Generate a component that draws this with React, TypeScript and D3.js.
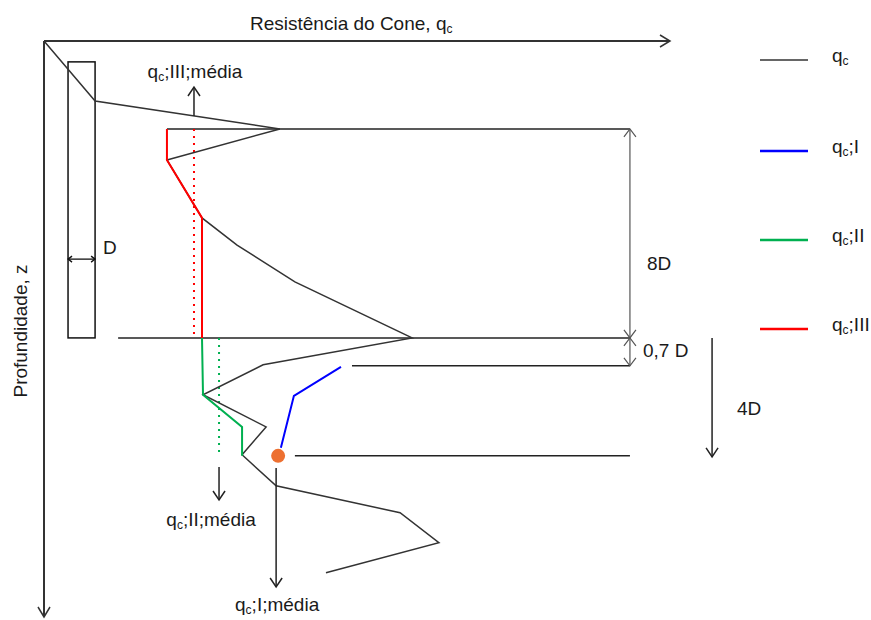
import React from "react";
import * as d3 from "d3";

// Cone resistance profile (depth in m, qc in MPa)
const qcDepth = [0, 2.3, 3.37, 4.56, 6.78, 7.82, 9.23, 11.38, 12.41, 13.56, 14.79, 15.86, 17.05, 18.08, 19.23, 20.38];
const qcValue = [0, 2.04, 9.42, 4.91, 6.31, 7.71, 10.02, 14.7, 8.75, 6.35, 8.87, 7.91, 9.27, 14.22, 15.77, 11.26];

// qc;III path (8D above the pile tip)
const qc3Depth = [3.37, 4.56, 6.78, 11.38];
const qc3Value = [4.91, 4.91, 6.31, 6.31];

// qc;II path (below the pile tip)
const qc2Depth = [11.38, 13.56, 14.79, 15.9];
const qc2Value = [6.31, 6.35, 7.91, 7.91];

// qc;I path
const qc1Depth = [12.49, 13.6, 15.59];
const qc1Value = [11.86, 9.98, 9.46];

// Averages
const meanLabels = ["III", "II", "I"];
const meanValues = [5.99, 6.99, 9.27];

// Reference levels
const levelTop = 3.37; // 8D above the tip
const pileTip = 11.38;
const level07 = 12.45; // 0.7D below the tip
const level4D = 15.9; // 4D below the tip
const minPointQc = 9.35;

// Pile shape
const pileLeft = 0.96;
const pileRight = 2.04;
const pileTop = 0.8;
const pileMarkDepth = 8.36;

// Legend
const legendLabels = ["", "I", "II", "III"];
const legendColors = ["#333333", "#0000ff", "#00b050", "#ff0000"];

const W = 871;
const H = 620;
const x = d3.scaleLinear().domain([0, 25]).range([44, 670]);
const y = d3.scaleLinear().domain([0, 22]).range([41, 615]);

const FONT = "'Liberation Sans', Arial, sans-serif";
const FS = 19;

function arrow(px: number, py: number, dir: "up" | "down" | "right" | "left", len = 9, half = 6) {
  switch (dir) {
    case "up":
      return `M${px - half},${py + len}L${px},${py}L${px + half},${py + len}`;
    case "down":
      return `M${px - half},${py - len}L${px},${py}L${px + half},${py - len}`;
    case "right":
      return `M${px - len},${py - half}L${px},${py}L${px - len},${py + half}`;
    default:
      return `M${px + len},${py - half}L${px},${py}L${px + len},${py + half}`;
  }
}

function Qc({ x: tx, y: ty, suffix, anchor = "start" }: { x: number; y: number; suffix: string; anchor?: string }) {
  return (
    <text x={tx} y={ty} fontFamily={FONT} fontSize={FS} fill="#1a1a1a" textAnchor={anchor}>
      q
      <tspan fontSize={12} dy={3}>c</tspan>
      <tspan dy={-3}>{suffix}</tspan>
    </text>
  );
}

export default function App() {
  const line = d3
    .line<[number, number]>()
    .x((d) => x(d[0]))
    .y((d) => y(d[1]));
  const pts = (vals: number[], deps: number[]) => vals.map((v, i) => [v, deps[i]] as [number, number]);

  const qcPath = line(pts(qcValue, qcDepth)) || "";
  const p3 = line(pts(qc3Value, qc3Depth)) || "";
  const p2 = line(pts(qc2Value, qc2Depth)) || "";
  const p1 = line(pts(qc1Value, qc1Depth)) || "";

  const dimX = x(23.4);
  const arr4X = x(26.68);
  const lineEnd = dimX;

  // depth of the qc profile at a given qc between the 2nd and 3rd points (for the III mean arrow base)
  const interpDepth = (v: number) => {
    const t = (v - qcValue[1]) / (qcValue[2] - qcValue[1]);
    return qcDepth[1] + t * (qcDepth[2] - qcDepth[1]);
  };

  const m3 = x(meanValues[0]);
  const m2 = x(meanValues[1]);
  const m1 = x(meanValues[2]);

  return (
    <svg width={W} height={H} style={{ position: "absolute", left: 0, top: 0, background: "#fff" }}>
      {/* axes */}
      <g stroke="#333" strokeWidth={2} fill="none">
        <line x1={x(0)} y1={y(0)} x2={x(25)} y2={y(0)} />
        <path d={arrow(x(25), y(0), "right", 10, 6)} strokeWidth={1.5} />
        <line x1={x(0)} y1={y(0)} x2={x(0)} y2={y(22) + 1} />
        <path d={arrow(x(0), y(22) + 2, "down", 10, 6)} strokeWidth={1.5} />
      </g>
      <text x={250} y={30} fontFamily={FONT} fontSize={FS} fill="#1a1a1a">
        Resistência do Cone, q<tspan fontSize={12} dy={3}>c</tspan>
      </text>
      <text
        transform={`translate(27,331) rotate(-90)`}
        fontFamily={FONT}
        fontSize={FS}
        fill="#1a1a1a"
        textAnchor="middle"
      >
        Profundidade, z
      </text>

      {/* pile */}
      <rect
        x={x(pileLeft)}
        y={y(pileTop)}
        width={x(pileRight) - x(pileLeft)}
        height={y(pileTip) - y(pileTop)}
        fill="none"
        stroke="#111"
        strokeWidth={1.5}
      />
      <g stroke="#111" strokeWidth={1.3} fill="none">
        <line x1={x(pileLeft)} y1={y(pileMarkDepth)} x2={x(pileRight)} y2={y(pileMarkDepth)} />
        <path d={arrow(x(pileLeft), y(pileMarkDepth), "left", 4, 3)} />
        <path d={arrow(x(pileRight), y(pileMarkDepth), "right", 4, 3)} />
      </g>
      <text x={103} y={254} fontFamily={FONT} fontSize={FS} fill="#1a1a1a">D</text>

      {/* reference levels */}
      <g stroke="#222" strokeWidth={1.5}>
        <line x1={x(qc3Value[0])} y1={y(levelTop)} x2={lineEnd} y2={y(levelTop)} />
        <line x1={x(2.96)} y1={y(pileTip)} x2={lineEnd} y2={y(pileTip)} />
        <line x1={x(12.3)} y1={y(level07)} x2={lineEnd} y2={y(level07)} />
        <line x1={x(10.02)} y1={y(level4D)} x2={lineEnd} y2={y(level4D)} />
      </g>

      {/* dimensions */}
      <g stroke="#555" strokeWidth={1.2} fill="none">
        <line x1={dimX} y1={y(levelTop)} x2={dimX} y2={y(level07)} />
        <path d={arrow(dimX, y(levelTop), "up", 8, 6)} />
        <path d={arrow(dimX, y(pileTip), "down", 8, 6)} />
        <path d={arrow(dimX, y(pileTip), "up", 8, 6)} />
        <path d={arrow(dimX, y(level07), "down", 8, 6)} />
      </g>
      <text x={647} y={270} fontFamily={FONT} fontSize={FS} fill="#1a1a1a">8D</text>
      <text x={643} y={357} fontFamily={FONT} fontSize={FS} fill="#1a1a1a">0,7 D</text>
      <g stroke="#222" strokeWidth={1.5} fill="none">
        <line x1={arr4X} y1={y(pileTip)} x2={arr4X} y2={y(level4D) + 1} />
        <path d={arrow(arr4X, y(level4D) + 1, "down", 9, 6)} />
      </g>
      <text x={737} y={415} fontFamily={FONT} fontSize={FS} fill="#1a1a1a">4D</text>

      {/* mean lines */}
      <line x1={m3} y1={y(levelTop)} x2={m3} y2={y(pileTip)} stroke="#ff0000" strokeWidth={2} strokeDasharray="2 5" />
      <line x1={m2} y1={y(pileTip)} x2={m2} y2={y(level4D)} stroke="#00b050" strokeWidth={2} strokeDasharray="2 5" />

      {/* qc profile */}
      <path d={qcPath} fill="none" stroke="#333" strokeWidth={1.5} />

      {/* qc;III, qc;II, qc;I */}
      <path d={p3} fill="none" stroke="#ff0000" strokeWidth={2} />
      <path d={p2} fill="none" stroke="#00b050" strokeWidth={2} />
      <path d={p1} fill="none" stroke="#0000ff" strokeWidth={2} />
      <circle cx={x(minPointQc)} cy={y(level4D)} r={7} fill="#ed7031" />

      {/* mean arrows */}
      <g stroke="#222" strokeWidth={1.5} fill="none">
        <line x1={m3} y1={y(interpDepth(meanValues[0]))} x2={m3} y2={87} />
        <path d={arrow(m3, 87, "up", 9, 6)} />
        <line x1={m2} y1={467} x2={m2} y2={500} />
        <path d={arrow(m2, 500, "down", 9, 6)} />
        <line x1={m1} y1={468} x2={m1} y2={587} />
        <path d={arrow(m1, 587, "down", 9, 6)} />
      </g>
      <Qc x={m3 + 1} y={78} suffix={`;${meanLabels[0]};média`} anchor="middle" />
      <Qc x={m2 - 8} y={526} suffix={`;${meanLabels[1]};média`} anchor="middle" />
      <Qc x={m1 + 1} y={611} suffix={`;${meanLabels[2]};média`} anchor="middle" />

      {/* legend */}
      {legendLabels.map((lab, i) => {
        const ly = [60, 151, 240, 329][i];
        return (
          <g key={i}>
            <line
              x1={760}
              x2={808}
              y1={ly}
              y2={ly}
              stroke={legendColors[i]}
              strokeWidth={i === 0 ? 1.5 : 2.5}
            />
            <Qc x={832} y={ly + 2} suffix={lab ? `;${lab}` : ""} />
          </g>
        );
      })}
    </svg>
  );
}
